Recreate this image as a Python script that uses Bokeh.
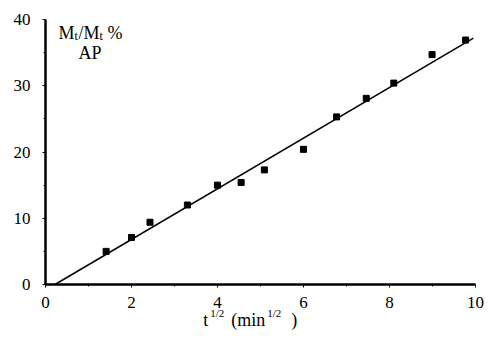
from bokeh.plotting import figure
from bokeh.models import Label, Range1d, FixedTicker
from bokeh.embed import file_html
from bokeh.resources import INLINE

# data
t_half = [1.41, 2.0, 2.43, 3.3, 4.0, 4.55, 5.09, 6.0, 6.77, 7.46, 8.1, 8.99, 9.77]
release = [5.0, 7.1, 9.4, 12.0, 15.0, 15.4, 17.3, 20.4, 25.3, 28.1, 30.4, 34.7, 36.9]
fit_x = [0.22, 9.95]
fit_y = [0.0, 37.2]
x_ticks = [0, 2, 4, 6, 8, 10]
y_ticks = [0, 10, 20, 30, 40]

FONT = "Liberation Serif"

# the frame fills the whole canvas; both axes sit at 0 so that all texts lie inside it
p = figure(width=484, height=331, output_backend="svg", toolbar_location=None,
           x_range=Range1d(-1.0465, 10.2093), y_range=Range1d(-7.094, 42.868),
           min_border_left=0, min_border_right=0, min_border_top=0, min_border_bottom=0)
p.outline_line_color = None
p.grid.visible = False
p.background_fill_color = "white"

for ax in (p.xaxis[0], p.yaxis[0]):
    ax.axis_line_width = 2.5
    ax.axis_line_color = "black"
    ax.major_tick_out = 3
    ax.major_tick_in = 0
    ax.minor_tick_out = 2
    ax.minor_tick_in = 0
    ax.major_tick_line_color = "black"
    ax.minor_tick_line_color = "black"
    ax.major_label_text_font = FONT
    ax.major_label_text_font_size = "17px"
    ax.major_label_text_color = "black"
    ax.fixed_location = 0

p.xaxis[0].bounds = (0, 10)
p.yaxis[0].bounds = (0, 40)
p.xaxis[0].ticker = FixedTicker(ticks=x_ticks, minor_ticks=list(range(0, 11)))
p.yaxis[0].ticker = FixedTicker(ticks=y_ticks, minor_ticks=list(range(0, 41, 5)))
p.xaxis[0].major_label_standoff = 9
p.yaxis[0].major_label_standoff = 12

p.line(fit_x, fit_y, line_color="black", line_width=1.5)
p.scatter(t_half, release, marker="square", size=6, color="black")

def lab(txt, x, y, xo=0, yo=0, size="18px"):
    p.add_layout(Label(x=x, y=y, x_offset=xo, y_offset=yo, text=txt,
                       text_font=FONT, text_font_size=size, text_color="black",
                       text_baseline="alphabetic", text_align="left"))

# y label inside plot: M_t/M_t %  and  AP
yx, yy = 0.30, 38.0
lab("M", yx, yy, 0)
lab("t", yx, yy, 16, -3, "12px")
lab("/M", yx, yy, 20)
lab("t", yx, yy, 41, -3, "12px")
lab("%", yx, yy, 49)
lab("AP", 0.77, 35.0)

# x label below axis: t^{1/2} (min^{1/2} )
xx, xy = 3.67, -5.3
lab("t", xx, xy, 0)
lab("1/2", xx, xy, 7, 7, "11px")
lab("(min", xx, xy, 28)
lab("1/2", xx, xy, 64, 7, "11px")
lab(")", xx, xy, 88)

open("out.html", "w").write(file_html(p, INLINE))
